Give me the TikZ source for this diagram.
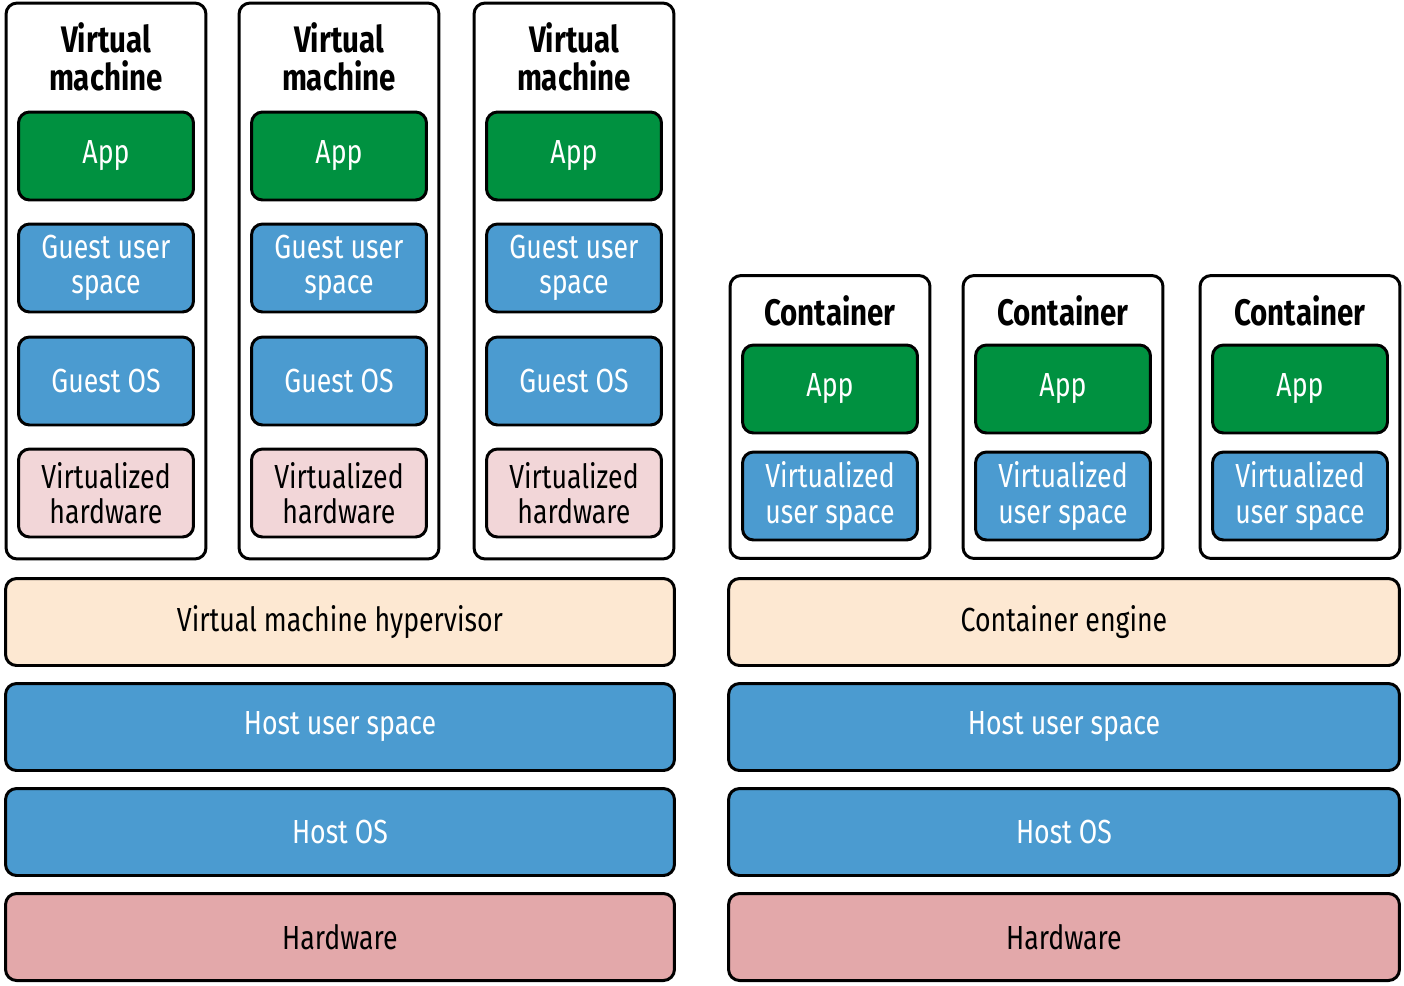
\documentclass[tikz,border=0pt]{standalone}
\usepackage{fontspec}
\setmainfont[FakeStretch=0.8]{Fira Sans}
\usepackage{tikz}
\definecolor{appgreen}{HTML}{009140}
\definecolor{layerblue}{HTML}{4B9BD0}
\definecolor{hwpink}{HTML}{F2D6D8}
\definecolor{enginecream}{HTML}{FDE8D2}
\definecolor{hwred}{HTML}{E3A8AA}

\begin{document}
\begin{tikzpicture}[x=0.02cm,y=-0.02cm,
            base box/.style={draw=black,line width=1.7pt,rounded corners=0.22cm,align=center,inner sep=0pt,font=\fontsize{19}{20}\selectfont},
            outer box/.style={base box,fill=white,minimum width=4.0cm},
            inner box/.style={base box,minimum width=3.5cm,minimum height=1.76cm},
            app box/.style={inner box,fill=appgreen,text=white},
            blue box/.style={inner box,fill=layerblue,text=white},
            pink box/.style={inner box,fill=hwpink},
            bar/.style={base box,minimum height=1.74cm},
            title/.style={font=\fontsize{21}{22}\selectfont\bfseries,align=center,inner sep=0pt},
            ]
            \useasboundingbox (0,0) rectangle (1404,985);

            % virtual machines
            \foreach \x [count=\i] in {106,339,574} {
                \node[outer box,minimum height=11.12cm] (vm\i) at (\x,281) {};
                \node[title] (vmt\i) at (\x,57) {Virtual\\machine};
                \node[app box] (vapp\i) at (\x,156) {App};
                \node[blue box] (gus\i) at (\x,268) {Guest user\\space};
                \node[blue box] (gos\i) at (\x,381) {Guest OS};
                \node[pink box] (vhw\i) at (\x,493) {Virtualized\\hardware};
            }

            % containers
            \foreach \x [count=\i] in {830,1063,1300} {
                \node[outer box,minimum height=5.66cm] (ct\i) at (\x,417) {};
                \node[title] (ctt\i) at (\x,311) {Container};
                \node[app box] (capp\i) at (\x,389) {App};
                \node[blue box] (vus\i) at (\x,496) {Virtualized\\user space};
            }

            % host layers
            \node[bar,fill=enginecream,minimum width=13.38cm] (hyp) at (340,622) {Virtual machine hypervisor};
            \node[bar,fill=layerblue,text=white,minimum width=13.38cm] (hus1) at (340,727) {Host user space};
            \node[bar,fill=layerblue,text=white,minimum width=13.38cm] (hos1) at (340,832) {Host OS};
            \node[bar,fill=hwred,minimum width=13.38cm] (hw1) at (340,937) {Hardware};

            \node[bar,fill=enginecream,minimum width=13.42cm] (eng) at (1064,622) {Container engine};
            \node[bar,fill=layerblue,text=white,minimum width=13.42cm] (hus2) at (1064,727) {Host user space};
            \node[bar,fill=layerblue,text=white,minimum width=13.42cm] (hos2) at (1064,832) {Host OS};
            \node[bar,fill=hwred,minimum width=13.42cm] (hw2) at (1064,937) {Hardware};
        \end{tikzpicture}
\end{document}
